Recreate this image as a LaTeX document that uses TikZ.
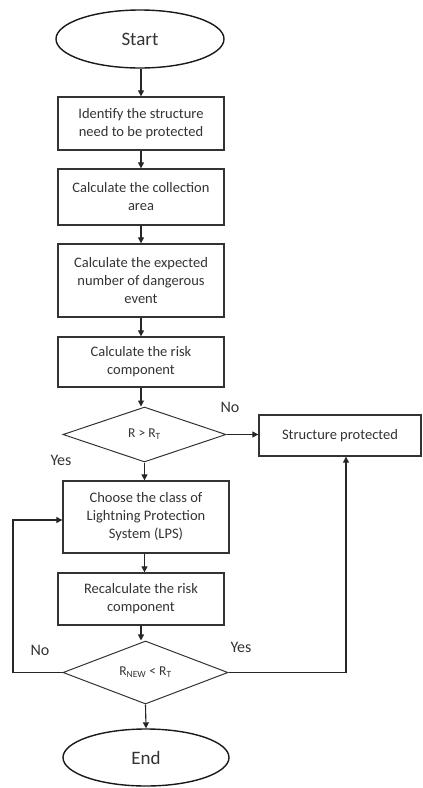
\documentclass[tikz,border=0pt]{standalone}
\usepackage{fontspec}
\setmainfont{Carlito}
\usetikzlibrary{shapes.geometric,arrows.meta}
\begin{document}
\begin{tikzpicture}[x=1pt,y=-1pt,
  every node/.style={text=black!80},
  proc/.style={draw=black!80,line width=1.3pt,rectangle,minimum width=166pt,inner sep=2pt,align=center,font=\fontsize{14.5}{18}\selectfont},
  term/.style={draw=black!90,line width=1.4pt,ellipse,inner sep=0pt,font=\fontsize{19}{22}\selectfont},
  dec/.style={draw=black!80,line width=1pt,diamond,inner sep=0pt,font=\fontsize{13.5}{15}\selectfont},
  arr/.style={draw=black!85,line width=1.1pt,-{Triangle[length=6pt,width=6pt]}},
  lbl/.style={font=\fontsize{16}{18}\selectfont}]
\useasboundingbox (0,0) rectangle (423,788);
\node[term,minimum width=168pt,minimum height=58pt] (start) at (140,39) {Start};
\node[proc,minimum height=53pt] (b1) at (141,123.5) {Identify the structure\\need to be protected};
\node[proc,minimum height=56pt] (b2) at (141,197) {Calculate the collection\\area};
\node[proc,minimum height=73pt] (b3) at (141,280.5) {Calculate the expected\\number of dangerous\\event};
\node[proc,minimum height=50pt] (b4) at (141,362) {Calculate the risk\\component};
\node[dec,minimum width=163pt,minimum height=55pt] (d1) at (144.5,434.5) {R > R\textsubscript{T}};
\node[proc,minimum width=162pt,minimum height=41pt] (sp) at (340,435.5) {\raisebox{3pt}{Structure protected}};
\node[proc,minimum height=72pt] (b5) at (146,517) {Choose the class of\\Lightning Protection\\System (LPS)};
\node[proc,minimum height=52pt] (b6) at (141,599) {Recalculate the risk\\component};
\node[dec,minimum width=165pt,minimum height=55pt] (d2) at (145.5,672.5) {R\textsubscript{NEW} < R\textsubscript{T}};
\node[term,minimum width=166pt,minimum height=57pt] (end) at (146,757.5) {End};
\coordinate (lc) at (13,520);
\coordinate (rc) at (346,672.5);
\draw[arr] (start.south -| b1.north) -- (b1.north);
\draw[arr] (b1.south) -- (b2.north);
\draw[arr] (b2.south) -- (b3.north);
\draw[arr] (b3.south) -- (b4.north);
\draw[arr] (b4.south) -- (b4.south |- d1.north);
\draw[arr] (d1.east) -- (d1.east -| sp.west);
\draw[arr] (d1.south) -- (d1.south |- b5.north);
\draw[arr] (b5.south -| d1.south) -- (b6.north -| d1.south);
\draw[arr] (b6.south) -- (b6.south |- d2.north);
\draw[arr] (d2.west) -| (lc) -- (lc -| b5.west);
\draw[arr] (d2.east) -- (rc) -- (rc |- sp.south);
\draw[arr] (d2.south) -- (end.north);
\node[lbl] (no1) at (230,407) {No};
\node[lbl] (yes1) at (61,460) {Yes};
\node[lbl] (no2) at (40,650) {No};
\node[lbl] (yes2) at (241,647) {Yes};
\end{tikzpicture}
\end{document}
